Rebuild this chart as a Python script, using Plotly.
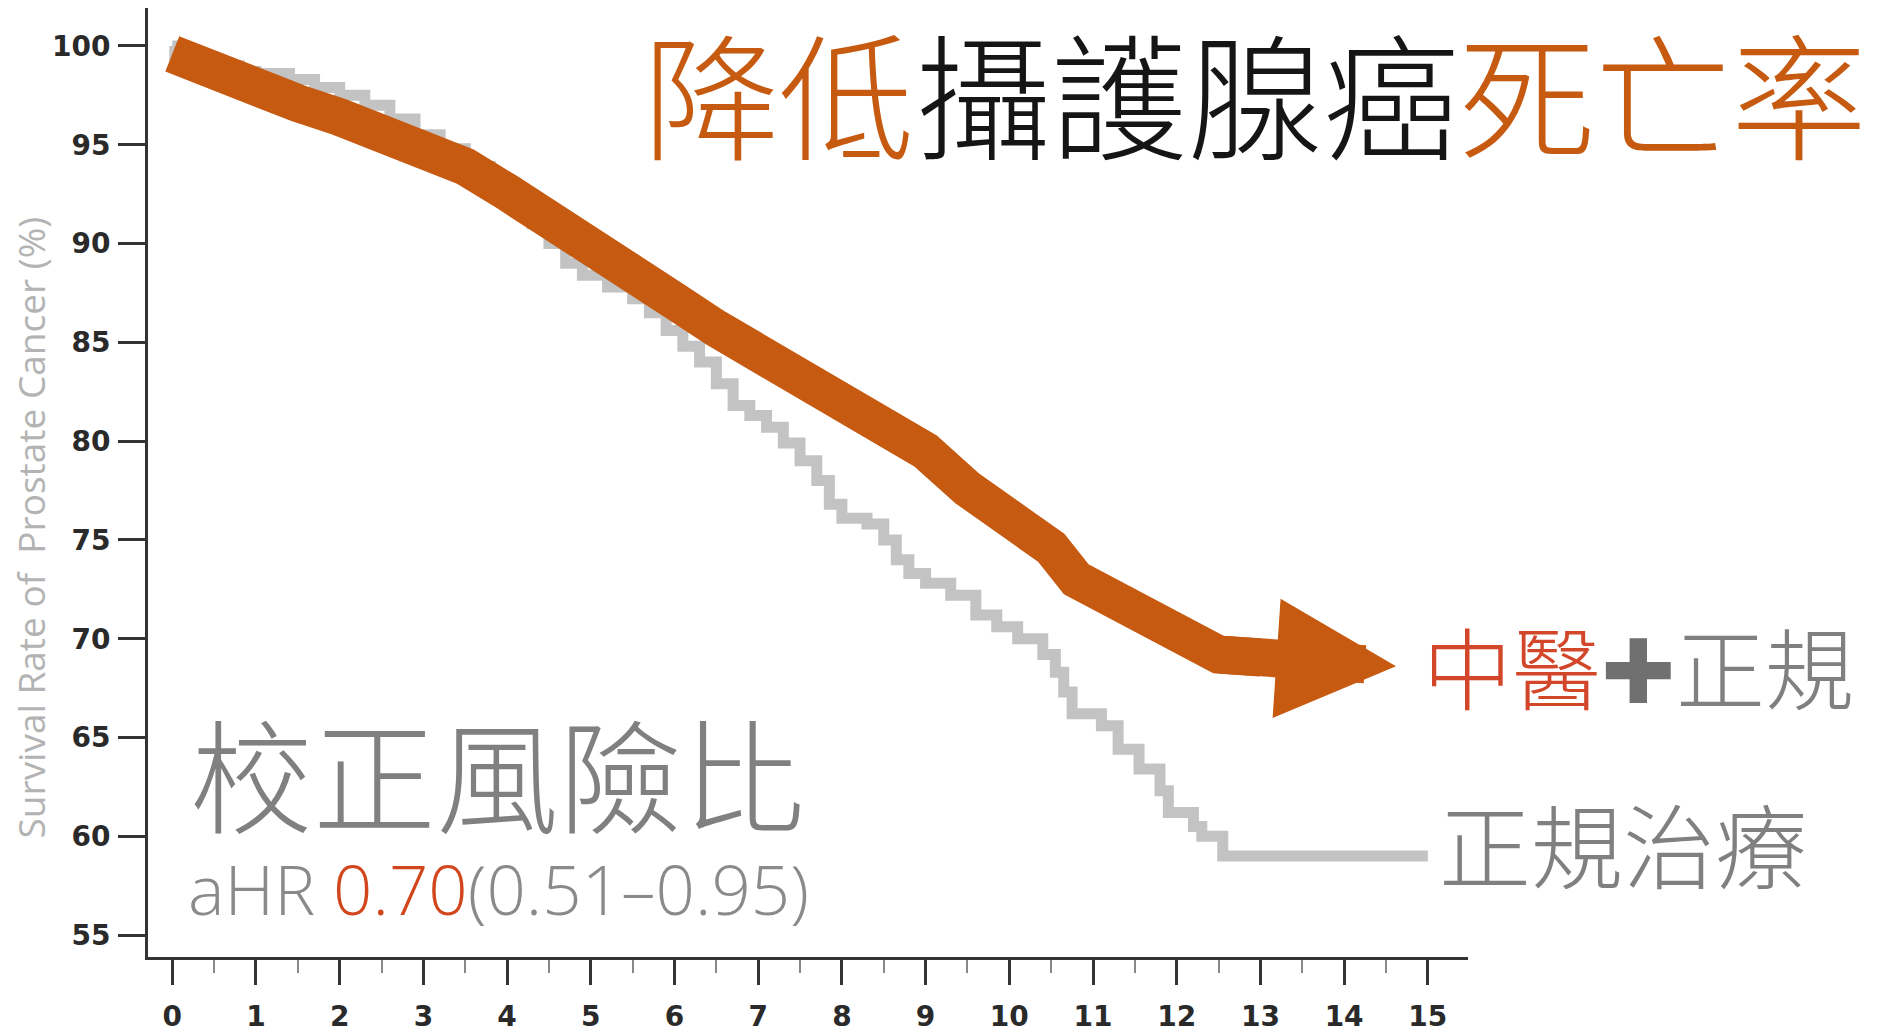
import plotly.graph_objects as go

# ---- data ----
# standard treatment only (grey Kaplan-Meier step curve)
gray_t = [0.0, 0.03, 0.4, 0.8, 1.0, 1.4, 1.7, 2.0, 2.3, 2.6, 2.9, 3.2, 3.5, 3.8, 4.1, 4.3,
          4.5, 4.7, 4.9, 5.2, 5.5, 5.7, 5.9, 6.1, 6.3, 6.5, 6.7, 6.9, 7.1, 7.3, 7.5,
          7.7, 7.85, 8.0, 8.3, 8.5, 8.65, 8.8, 9.0, 9.3, 9.6, 9.85, 10.1, 10.4, 10.55,
          10.65, 10.75, 11.1, 11.3, 11.55, 11.8, 11.9, 12.2, 12.3, 12.55, 15.0]
gray_s = [100.0, 99.4, 99.0, 98.7, 98.6, 98.3, 97.9, 97.5, 97.0, 96.3, 95.5, 94.8, 93.9, 93.0, 92.0, 91.0,
          90.0, 89.0, 88.4, 87.8, 87.2, 86.5, 85.6, 84.8, 84.0, 82.9, 81.8, 81.3, 80.7, 79.9, 79.0,
          78.0, 76.8, 76.1, 75.8, 75.0, 74.0, 73.3, 72.8, 72.2, 71.2, 70.6, 70.0, 69.2, 68.3,
          67.3, 66.2, 65.6, 64.4, 63.4, 62.3, 61.2, 60.5, 60.0, 59.0, 59.0]

# TCM + standard treatment (thick orange curve)
tcm_t = [0.0, 0.5, 1.0, 1.5, 2.0, 2.5, 3.0, 3.5, 4.0, 4.5, 5.0, 5.5, 6.0, 6.5, 7.0,
         7.5, 8.0, 8.5, 9.0, 9.5, 10.0, 10.5, 10.8, 11.0, 11.5, 12.0, 12.5, 13.0]
tcm_s = [99.6, 98.6, 97.8, 97.1, 96.4, 95.7, 94.9, 93.9, 92.6, 91.1, 89.9, 88.6, 87.1, 85.7, 84.5,
         83.4, 82.0, 80.7, 79.5, 77.6, 76.1, 74.6, 73.0, 72.6, 71.5, 70.1, 69.2, 69.05]
arrow_tip_t = 14.62
arrow_tip_s = 68.6

x_ticks = list(range(0, 16))
y_ticks = list(range(55, 101, 5))

ORANGE = "#C65A11"
GREY_LINE = "#c3c3c3"
GREY_TEXT = "#808080"

fig = go.Figure()
fig.add_trace(go.Scatter(x=gray_t, y=gray_s, mode="lines", name="正規治療",
                         line=dict(color=GREY_LINE, width=11, shape="hv"), hoverinfo="skip"))
fig.add_trace(go.Scatter(x=tcm_t, y=tcm_s, mode="lines", name="中醫+正規",
                         line=dict(color=ORANGE, width=38, shape="linear"), hoverinfo="skip"))

# arrow head continuing the orange curve (shaft overlaps the last segment)
fig.add_annotation(x=arrow_tip_t, y=arrow_tip_s, ax=tcm_t[-2], ay=tcm_s[-2],
                   xref="x", yref="y", axref="x", ayref="y", text="",
                   showarrow=True, arrowhead=2, arrowsize=0.63, arrowwidth=38,
                   arrowcolor=ORANGE, standoff=0)

CJK = "Noto Sans CJK TC"

# title
fig.add_annotation(xref="paper", yref="paper", x=0.8386, y=0.913, xanchor="center", yanchor="middle",
                   showarrow=False,
                   text=f'<span style="color:{ORANGE}">降低</span><span style="color:#151515">攝護腺癌</span>'
                        f'<span style="color:{ORANGE}">死亡率</span>',
                   font=dict(family=CJK, size=136, weight=300))

# series labels
fig.add_annotation(xref="paper", yref="paper", x=0.9645, y=0.3084, xanchor="left", yanchor="middle",
                   showarrow=False,
                   text='<span style="color:#D2462A">中醫</span>'
                        '<span style="color:#707070;font-family:DejaVu Sans">✚</span>'
                        f'<span style="color:{GREY_TEXT}">正規</span>',
                   font=dict(family=CJK, size=89, weight=300))
fig.add_annotation(xref="paper", yref="paper", x=0.9765, y=0.1222, xanchor="left", yanchor="middle",
                   showarrow=False, text="正規治療",
                   font=dict(family=CJK, size=92, color=GREY_TEXT, weight=300))

# adjusted hazard ratio
fig.add_annotation(xref="paper", yref="paper", x=0.2644, y=0.197, xanchor="center", yanchor="middle",
                   showarrow=False, text="校正風險比",
                   font=dict(family=CJK, size=123, color=GREY_TEXT, weight=300))
fig.add_annotation(xref="paper", yref="paper", x=0.0288, y=0.0724, xanchor="left", yanchor="middle",
                   showarrow=False,
                   text='aHR <span style="color:#D2461E">0.70</span>(0.51–0.95)',
                   font=dict(family="Open Sans", size=69, color="#8a8a8a", weight=300))

# y axis title
fig.add_annotation(xref="paper", yref="paper", x=-0.0894, y=0.4526, xanchor="center", yanchor="middle",
                   showarrow=False, textangle=-90, text="Survival Rate of  Prostate Cancer (%)",
                   font=dict(family="Open Sans", size=37, color="#b3b3b3"))

fig.update_xaxes(range=[-0.29, 15.48], tickvals=x_ticks, ticktext=[str(v) for v in x_ticks],
                 showline=True, linecolor="#333333", linewidth=3, mirror=False, automargin=False,
                 ticks="outside", ticklen=25, tickwidth=3, tickcolor="#333333",
                 minor=dict(dtick=0.5, tick0=0, ticks="outside", ticklen=13, tickwidth=2, tickcolor="#888888"),
                 showgrid=False, zeroline=False, ticklabelstandoff=7,
                 tickfont=dict(family="DejaVu Sans", size=28, color="#2a2a2a", weight="bold"))
fig.update_yaxes(range=[53.89, 101.92], tickvals=y_ticks, ticktext=[str(v) for v in y_ticks],
                 showline=True, linecolor="#333333", linewidth=3, automargin=False,
                 ticks="outside", ticklen=27, tickwidth=3, tickcolor="#333333",
                 showgrid=False, zeroline=False, ticklabelstandoff=2,
                 tickfont=dict(family="DejaVu Sans", size=28, color="#2a2a2a", weight="bold"))

# the page body keeps an 8px margin: offset the figure so the plot area lands where the reference has it
fig.update_layout(width=1872, height=1025, margin=dict(l=140, r=412, t=0, b=76),
                  paper_bgcolor="white", plot_bgcolor="white", showlegend=False)

fig.write_html("out.html")
